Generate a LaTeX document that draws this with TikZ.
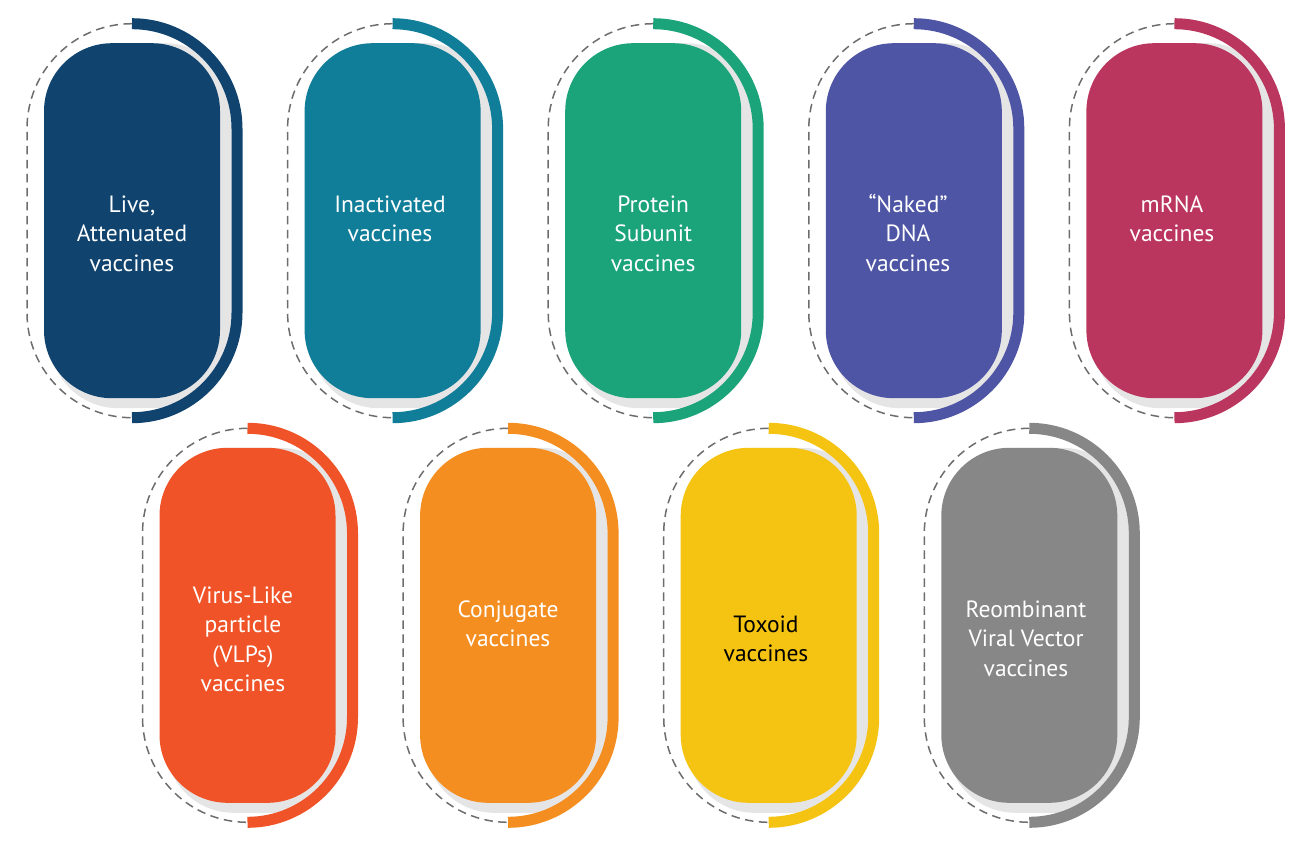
\documentclass[tikz,border=0pt]{standalone}
\usepackage{fontspec}
\setmainfont{PT Sans}
\definecolor{cA}{HTML}{10446F}
\definecolor{cB}{HTML}{117E99}
\definecolor{cC}{HTML}{1BA37A}
\definecolor{cD}{HTML}{4E55A4}
\definecolor{cE}{HTML}{BA365E}
\definecolor{cF}{HTML}{EF5327}
\definecolor{cG}{HTML}{F48E20}
\definecolor{cH}{HTML}{F5C413}
\definecolor{cI}{HTML}{878787}
\definecolor{shadowc}{HTML}{E6E5E6}
\definecolor{dashc}{HTML}{6D6D6D}
\newcommand{\vcard}[3]{%
  \fill[shadowc, rounded corners=68pt] (#1-82,#2-177.5) rectangle (#1+101,#2+187.5);
  \fill[#3, rounded corners=68pt] (#1-88,#2-177.5) rectangle (#1+88,#2+177.5);
  \draw[#3, line width=11pt] (#1,#2-197) arc[start angle=90, end angle=0, radius=105pt]
      -- (#1+105,#2+92) arc[start angle=0, end angle=-90, radius=105pt];
  \draw[dashc, line width=1.5pt, dash pattern=on 8.5pt off 5.5pt] (#1,#2-197) arc[start angle=90, end angle=180, radius=105pt]
      -- (#1-105,#2+92) arc[start angle=180, end angle=270, radius=105pt];
}
\tikzset{lbl/.style={anchor=base, align=center, text=white, inner sep=0pt, font=\fontsize{23.5}{29.5}\selectfont}}
\begin{document}
\begin{tikzpicture}[x=1pt,y=-1pt]
\useasboundingbox (0,0) rectangle (1300,843);
\vcard{132}{220.7}{cA}
\vcard{392.6}{220.7}{cB}
\vcard{653.2}{220.7}{cC}
\vcard{913.8}{220.7}{cD}
\vcard{1174.4}{220.7}{cE}
\vcard{247.5}{625.3}{cF}
\vcard{508.1}{625.3}{cG}
\vcard{768.7}{625.3}{cH}
\vcard{1029.3}{625.3}{cI}
\node[lbl] (t1) at (132,271) {Live,\\Attenuated\\vaccines};
\node[lbl] (t2) at (390,241.5) {Inactivated\\vaccines};
\node[lbl] (t3) at (653.2,271) {Protein\\Subunit\\vaccines};
\node[lbl] (t4) at (908,271) {“Naked”\\DNA\\vaccines};
\node[lbl] (t5) at (1172,241.5) {mRNA\\vaccines};
\node[lbl] (t6) at (243,691.5) {Virus-Like\\particle\\(VLPs)\\vaccines};
\node[lbl] (t7) at (508,646.5) {Conjugate\\vaccines};
\node[lbl, text=black] (t8) at (766,661.5) {Toxoid\\vaccines};
\node[lbl] (t9) at (1026,676) {Reombinant\\Viral Vector\\vaccines};
\end{tikzpicture}
\end{document}
